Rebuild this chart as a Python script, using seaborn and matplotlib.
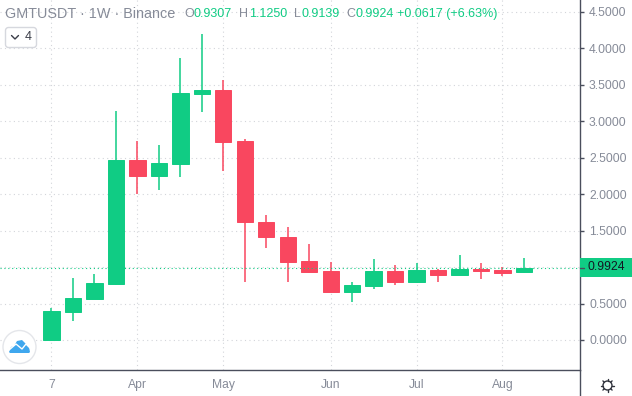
import numpy as np
import pandas as pd
import seaborn as sns
import matplotlib.pyplot as plt
from matplotlib.patches import Circle, FancyBboxPatch, Polygon, Rectangle

# weekly candles
opens = [0.00, 0.39, 0.56, 0.77, 2.46, 2.25, 2.41, 3.37, 3.43, 2.72, 1.62, 1.41,
         1.08, 0.945, 0.66, 0.74, 0.945, 0.795, 0.96, 0.89, 0.97, 0.96, 0.9307]
highs = [0.44, 0.85, 0.90, 3.14, 2.72, 2.67, 3.86, 4.19, 3.56, 2.75, 1.71, 1.55,
         1.31, 1.07, 0.79, 1.11, 1.03, 1.055, 0.97, 1.165, 1.055, 1.00, 1.125]
lows = [0.00, 0.265, 0.56, 0.75, 2.00, 2.05, 2.23, 3.12, 2.32, 0.80, 1.26, 0.80,
        0.92, 0.66, 0.52, 0.70, 0.75, 0.78, 0.795, 0.89, 0.84, 0.88, 0.9139]
closes = [0.40, 0.575, 0.78, 2.46, 2.25, 2.43, 3.38, 3.43, 2.71, 1.62, 1.41, 1.07,
          0.93, 0.66, 0.75, 0.945, 0.795, 0.96, 0.89, 0.97, 0.945, 0.92, 0.9924]

x_tick_weeks = [0, 4, 8, 13, 17, 21]
x_tick_labels = ["7", "Apr", "May", "Jun", "Jul", "Aug"]
y_ticks = [0.0, 0.5, 1.0, 1.5, 2.0, 2.5, 3.0, 3.5, 4.0, 4.5]
y_tick_labels = ["0.0000", "0.5000", "", "1.5000", "2.0000", "2.5000",
                 "3.0000", "3.5000", "4.0000", "4.5000"]
last_price = 0.9924

GREEN = "#10cc84"
RED = "#f9475f"
GRAY = "#868b98"
GRID = "#d3d5da"
DARK = "#4a4e5c"

df = pd.DataFrame({"week": range(len(opens)), "open": opens, "high": highs,
                   "low": lows, "close": closes})
df["body"] = (df["close"] - df["open"]).abs()
df["bottom"] = df[["open", "close"]].min(axis=1)
up = df[df["close"] >= df["open"]]
down = df[df["close"] < df["open"]]

sns.set_theme(style="white")
plt.rcParams["font.family"] = ["Liberation Sans", "DejaVu Sans"]

W, H = 632, 396
fig = plt.figure(figsize=(W / 100, H / 100), dpi=100)
ax = fig.add_axes([0, 26 / H, 580 / W, 370 / H])

# wicks first, bodies on top
ax.vlines(up["week"], up["low"], up["high"], color=GREEN, lw=1.1, zorder=2)
ax.vlines(down["week"], down["low"], down["high"], color=RED, lw=1.1, zorder=2)
sns.barplot(data=up, x="week", y="body", bottom=up["bottom"].values, native_scale=True,
            color=GREEN, saturation=1, width=0.76, linewidth=0.7, edgecolor=GREEN, ax=ax, zorder=3)
sns.barplot(data=down, x="week", y="body", bottom=down["bottom"].values, native_scale=True,
            color=RED, saturation=1, width=0.76, linewidth=0.7, edgecolor=RED, ax=ax, zorder=3)

ax.axhline(last_price, color=GREEN, lw=0.8, ls=(0, (1, 2.5)), zorder=4)

ax.set_xlim(-2.398, 24.61)
ax.set_ylim(-0.411, 4.658)
ax.set_xlabel("")
ax.set_ylabel("")
ax.set_axisbelow(True)
ax.grid(True, color=GRID, lw=0.8, ls=(0, (1, 3)))

ax.set_xticks(x_tick_weeks)
ax.set_xticklabels(x_tick_labels)
ax.yaxis.tick_right()
ax.set_yticks(y_ticks)
ax.set_yticklabels(y_tick_labels)
ax.tick_params(axis="y", colors=DARK, labelcolor=GRAY, labelsize=8.7, length=3, width=1, pad=3.5)
ax.tick_params(axis="x", colors=DARK, labelcolor=GRAY, labelsize=8.7, length=2.5, width=1, pad=4)

for side in ["top", "left"]:
    ax.spines[side].set_visible(False)
for side in ["bottom", "right"]:
    ax.spines[side].set_color(DARK)
    ax.spines[side].set_linewidth(1.0)

# overlay in pixel coords for the header, price tag and icons
ov = fig.add_axes([0, 0, 1, 1], facecolor="none")
ov.set_xlim(0, W)
ov.set_ylim(H, 0)
ov.axis("off")

ov.plot([580, 580], [370, 396], color=DARK, lw=1.0)

ov.text(5, 14, "GMTUSDT · 1W · Binance", color=GRAY, fontsize=10.4, va="center")
parts = [(184, "O", GRAY), (194, "0.9307", GREEN), (239, "H", GRAY), (249, "1.1250", GREEN),
         (294, "L", GRAY), (301, "0.9139", GREEN), (346, "C", GRAY), (355, "0.9924", GREEN),
         (397, "+0.0617 (+6.63%)", GREEN)]
for px, txt, col in parts:
    ov.text(px, 14, txt, color=col, fontsize=9, va="center")

# collapse button
ov.add_patch(FancyBboxPatch((5.5, 27.5), 31, 20, boxstyle="round,pad=0,rounding_size=3",
                            fc="white", ec="#d6d8de", lw=1.0))
ov.plot([11.5, 15, 18.5], [35.5, 39, 35.5], color="#3a3d48", lw=1.0)
ov.text(28, 37.5, "4", color="#3a3d48", fontsize=9, ha="center", va="center")

# last price tag
ov.add_patch(Rectangle((580, 258), 52, 19, fc=GREEN, ec="none"))
ov.plot([580, 584], [267.5, 267.5], color=DARK, lw=1.0)
ov.text(606.5, 267.5, "0.9924", color="#131722", fontsize=8.7, ha="center", va="center")

# logo badge
ov.add_patch(Circle((19.5, 347), 16.5, fc="white", ec="#e4e6ea", lw=1.0, zorder=5))
ov.add_patch(Polygon([(9, 352), (11, 347), (14, 346), (17, 341), (22, 340), (26, 344), (29, 347),
                      (30, 352), (29, 353), (10, 353)], closed=True, fc="#3fa7ee", ec="none", zorder=6))
ov.plot([9, 16, 22, 26, 30], [350, 344, 349, 344, 348], color="white", lw=1.0, zorder=7)

# gear icon
ov.add_patch(Circle((607.5, 385.5), 4.5, fc="white", ec="#30333d", lw=1.0))
for ang in np.deg2rad(np.arange(0, 360, 45)):
    ov.plot([607.5 + 4.5 * np.cos(ang), 607.5 + 6.5 * np.cos(ang)],
            [385.5 + 4.5 * np.sin(ang), 385.5 + 6.5 * np.sin(ang)], color="#30333d", lw=1.0)

fig.savefig("out.png", dpi=100)
